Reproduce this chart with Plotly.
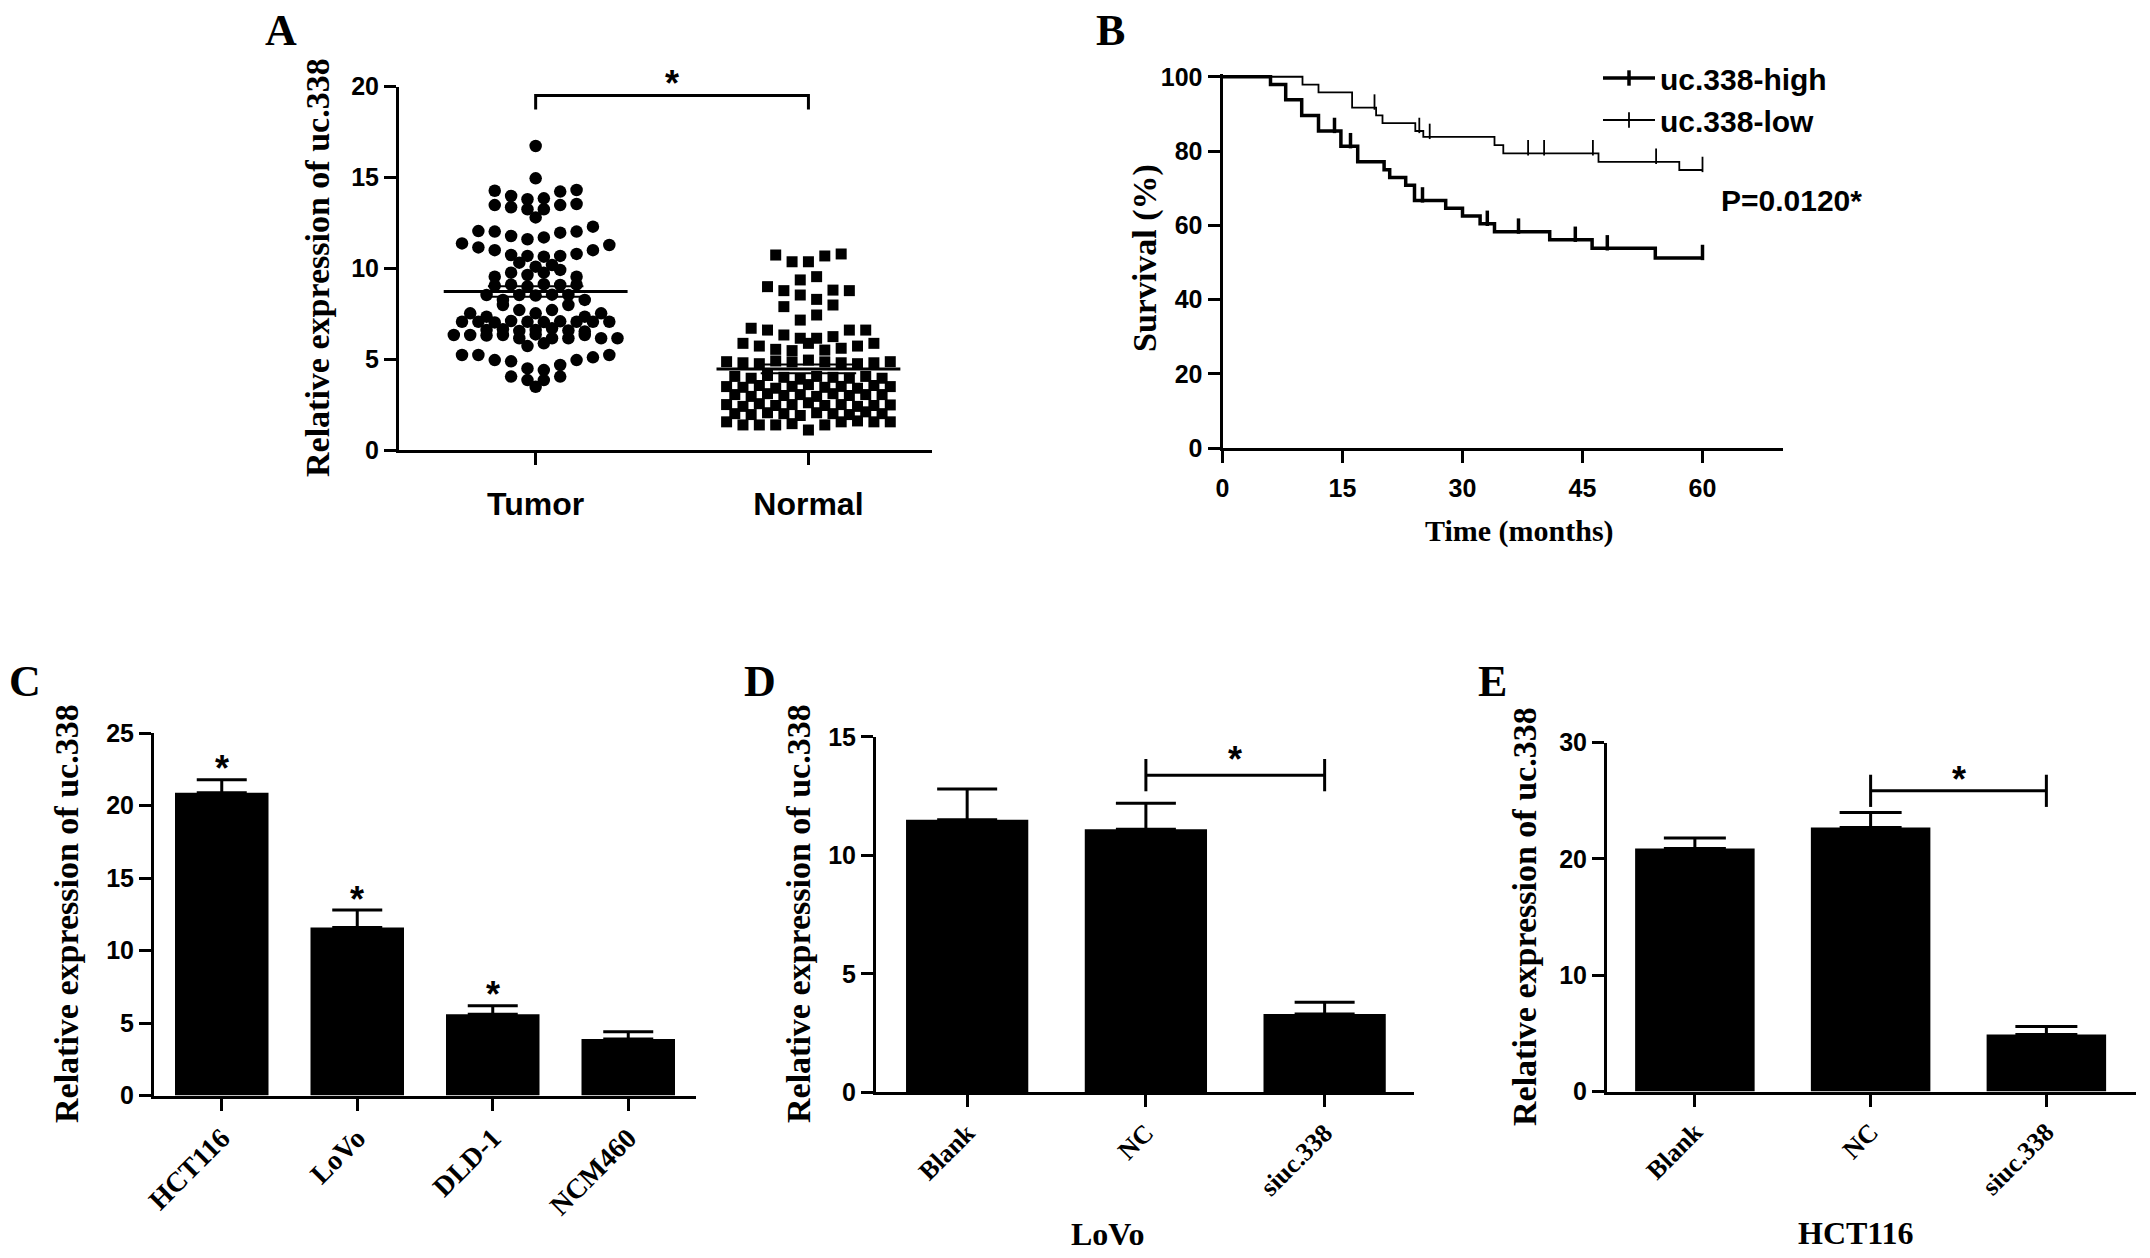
import numpy as np
import plotly.graph_objects as go

# ---------------------------------------------------------------- data
# Panel A: relative expression, read row by row (left to right) from the dot plot
tumor_rows = [
    [16.73],
    [14.95],
    [14.27, 13.98, 13.80, 13.85, 14.22, 14.31],
    [13.48, 13.36, 13.25, 13.25, 13.48, 13.54],
    [12.80],
    [12.05, 12.02, 11.78, 11.60, 11.70, 11.96, 12.02, 12.29],
    [11.37, 11.15, 11.00, 10.73, 10.68, 10.64, 10.68, 10.79, 11.00, 11.28],
    [10.31, 10.09, 10.18],
    [9.54, 9.76, 9.63, 9.76, 9.91, 9.54],
    [9.05, 9.10, 9.00, 9.12, 9.08, 9.10],
    [8.53, 8.26, 8.53, 8.50, 8.55, 8.53, 8.26],
    [7.52, 7.34, 7.98, 7.70, 7.52, 7.70, 7.98, 7.34, 7.52],
    [7.06, 7.06, 7.02, 7.10, 7.06, 7.04, 7.08, 7.06, 7.06, 7.06],
    [6.60, 6.65, 6.55, 6.60, 6.70, 6.58, 6.52],
    [6.33, 6.33, 6.30, 6.33, 6.15, 6.36, 6.15, 6.15, 6.33, 6.15, 6.15],
    [5.72, 5.87],
    [5.23, 5.23, 4.95, 4.88, 4.49, 4.40, 4.68, 4.95, 5.10, 5.23],
    [4.04, 3.85, 3.85, 4.04],
    [3.48],
]
normal_rows = [
    [10.73, 10.36, 10.36, 10.68, 10.79],
    [9.36, 9.54],
    [8.99, 8.77, 8.53, 8.29, 8.80, 8.77],
    [7.89, 7.15, 7.43, 7.98],
    [6.70, 6.60, 6.33, 6.15, 6.15, 6.24, 6.60, 6.60],
    [5.87, 5.72, 5.54, 5.47, 5.87, 5.50, 5.60, 5.72, 5.87],
    [4.86, 4.80, 4.75, 4.90, 4.85, 4.95, 4.85, 4.80, 4.75, 4.80, 4.86],
    [4.05, 3.95, 4.10, 4.00, 3.90, 4.05, 4.00, 3.95, 4.05, 3.95],
    [3.49, 3.45, 3.55, 3.40, 3.50, 3.60, 3.45, 3.50, 3.40, 3.55, 3.49],
    [3.05, 2.95, 3.10, 3.00, 3.05, 2.95, 3.10, 3.00, 3.05, 3.05],
    [2.50, 2.40, 2.55, 2.45, 2.50, 2.60, 2.45, 2.50, 2.40, 2.45, 2.48],
    [2.00, 1.95, 2.05, 2.00, 1.90, 2.05, 2.00, 1.95, 2.10, 2.00],
    [1.55, 1.38, 1.38, 1.38, 1.45, 1.10, 1.38, 1.55, 1.60, 1.55, 1.55],
]
a_categories = ["Tumor", "Normal"]
a_bracket = [18.74, 19.51]
a_star_y = 20.6

# Panel B: Kaplan-Meier steps (months, survival %) and censor times
high_t = [0, 6.0, 7.9, 9.9, 12.0, 14.8, 16.9, 20.2, 20.9, 22.9, 24.0, 27.9, 30.0,
          32.2, 34.0, 40.9, 46.2, 54.1, 60]
high_s = [100, 97.9, 93.8, 89.6, 85.4, 81.3, 77.1, 75.0, 72.9, 70.8, 66.7, 64.6, 62.5,
          60.4, 58.3, 56.1, 53.8, 51.2, 51.2]
high_censor = [14.0, 16.0, 25.0, 33.1, 37.0, 44.1, 48.1, 60]
low_t = [0, 10.0, 12.0, 16.2, 19.2, 20.0, 24.1, 25.1, 34.0, 35.1, 47.0, 57.1, 60]
low_s = [100, 97.9, 95.8, 91.7, 89.6, 87.5, 85.4, 83.8, 81.6, 79.4, 77.1, 74.9, 74.9]
low_censor = [19.0, 24.6, 25.9, 38.2, 40.2, 46.3, 54.2, 60]
b_names = ["uc.338-high", "uc.338-low"]
b_pvalue = "P=0.0120*"

# Panel C: cell lines
c_labels = ["HCT116", "LoVo", "DLD-1", "NCM460"]
c_mean = [20.9, 11.6, 5.6, 3.9]
c_err = [0.9, 1.2, 0.6, 0.5]
c_sig = [True, True, True, False]

# Panel D: LoVo
d_labels = ["Blank", "NC", "siuc.338"]
d_mean = [11.5, 11.1, 3.3]
d_err = [1.3, 1.1, 0.5]
d_bracket_y = 13.38

# Panel E: HCT116
e_labels = ["Blank", "NC", "siuc.338"]
e_mean = [20.9, 22.7, 4.9]
e_err = [0.9, 1.3, 0.7]
e_bracket_y = 25.86

# ---------------------------------------------------------------- style
W, H = 2150, 1258
SANS = "Liberation Sans, Arial, Helvetica, sans-serif"
SERIF = "Liberation Serif, Times New Roman, Times, serif"


def fnt(fam, size, bold=True):
    return dict(family=fam, size=size, color="black", weight="bold" if bold else "normal")


def dxp(a, b):
    return [a / W, b / W]


def dyp(top, bottom):
    return [1 - bottom / H, 1 - top / H]


AX = dict(showline=True, linecolor="black", linewidth=3, ticks="outside", ticklen=12,
          tickwidth=3, tickcolor="black", showgrid=False, zeroline=False, fixedrange=True,
          automargin=False)

fig = go.Figure()

# ---------------------------------------------------------------- panel A
COL = 0.06  # horizontal spacing of swarm columns (category units)


def swarm(rows, center):
    xs, ys = [], []
    for row in rows:
        n = len(row)
        for i, v in enumerate(row):
            xs.append(center + (i - (n - 1) / 2) * COL)
            ys.append(v)
    return xs, ys


tx, ty = swarm(tumor_rows, 0)
nx, ny = swarm(normal_rows, 1)
fig.add_trace(go.Scatter(x=tx, y=ty, mode="markers", xaxis="x", yaxis="y", showlegend=False,
                         marker=dict(symbol="circle", size=12.5, color="black", line=dict(width=0))))
fig.add_trace(go.Scatter(x=nx, y=ny, mode="markers", xaxis="x", yaxis="y", showlegend=False,
                         marker=dict(symbol="square", size=11, color="black", line=dict(width=0))))
for c, vals in ((0, ty), (1, ny)):
    arr = np.array(vals)
    m = arr.mean()
    sem = arr.std(ddof=1) / np.sqrt(len(arr))
    fig.add_trace(go.Scatter(x=[c - 0.337, c + 0.337], y=[m, m], mode="lines", xaxis="x", yaxis="y",
                             showlegend=False, line=dict(color="black", width=3)))
    for s in (m - sem, m + sem):
        fig.add_trace(go.Scatter(x=[c - 0.175, c + 0.175], y=[s, s], mode="lines", xaxis="x",
                                 yaxis="y", showlegend=False, line=dict(color="black", width=2)))
fig.add_trace(go.Scatter(x=[0, 0, 1, 1], y=[a_bracket[0], a_bracket[1], a_bracket[1], a_bracket[0]],
                         mode="lines", xaxis="x", yaxis="y", showlegend=False,
                         line=dict(color="black", width=3)))

# ---------------------------------------------------------------- panel B


def surv_at(t, times, surv):
    idx = np.searchsorted(times, t, side="right") - 1
    return [surv[i] for i in idx]


TICK_OFF = 1.5
for name, tt, ss, cen, lw in ((b_names[0], high_t, high_s, high_censor, 3.5),
                              (b_names[1], low_t, low_s, low_censor, 1.8)):
    fig.add_trace(go.Scatter(x=tt, y=ss, mode="lines", line_shape="hv", xaxis="x2", yaxis="y2",
                             showlegend=False, line=dict(color="black", width=lw)))
    cy = [v + TICK_OFF for v in surv_at(np.array(cen), np.array(tt), ss)]
    fig.add_trace(go.Scatter(x=cen, y=cy, mode="markers", xaxis="x2", yaxis="y2", showlegend=False,
                             cliponaxis=False,
                             marker=dict(symbol="line-ns", size=11, color="black",
                                         line=dict(width=lw, color="black"))))
    fig.add_trace(go.Scatter(x=[None], y=[None], mode="lines+markers", name=name, xaxis="x2",
                             yaxis="y2", legendgroup=name, showlegend=True,
                             line=dict(color="black", width=lw),
                             marker=dict(symbol="line-ns", size=11, color="black",
                                         line=dict(width=lw, color="black"))))

# ---------------------------------------------------------------- panels C, D, E
for xa, ya, means, errs, cap, bw in (("x3", "y3", c_mean, c_err, 25, 0.69),
                                     ("x4", "y4", d_mean, d_err, 30, 0.684),
                                     ("x5", "y5", e_mean, e_err, 31, 0.68)):
    fig.add_trace(go.Bar(x=list(range(len(means))), y=means, width=bw, xaxis=xa, yaxis=ya,
                         showlegend=False, marker=dict(color="black", line=dict(width=0)),
                         error_y=dict(type="data", symmetric=False, array=errs,
                                      arrayminus=[0] * len(errs), color="black",
                                      thickness=3, width=cap)))

for xa, ya, yb in (("x4", "y4", d_bracket_y), ("x5", "y5", e_bracket_y)):
    fig.add_trace(go.Scatter(x=[1, 2], y=[yb, yb], mode="lines+markers", xaxis=xa, yaxis=ya,
                             showlegend=False, line=dict(color="black", width=3),
                             marker=dict(symbol="line-ns", size=23, color="black",
                                         line=dict(width=3, color="black"))))

# ---------------------------------------------------------------- annotations
ann = []
STAR = fnt(SANS, 36)


def star(x, y, xref, yref):
    ann.append(dict(x=x, y=y, xref=xref, yref=yref, text="*", showarrow=False,
                    font=STAR, xanchor="center", yanchor="middle", yshift=-8))


star(0.5, a_star_y / 20, "x", "y domain")
for i, (m, e, s) in enumerate(zip(c_mean, c_err, c_sig)):
    if s:
        star(i, m + e + 1.3, "x3", "y3")
star(1.5, d_bracket_y + 1.0, "x4", "y4")
star(1.5, e_bracket_y + 1.7, "x5", "y5")


def ptext(text, px, py, f, angle=0, xa="center", ya="middle"):
    ann.append(dict(x=px / W, y=1 - py / H, xref="paper", yref="paper", text=text,
                    showarrow=False, font=f, textangle=angle, xanchor=xa, yanchor=ya))


for letter, px, py in (("A", 281, 30), ("B", 1110, 30), ("C", 25, 681), ("D", 760, 681),
                       ("E", 1492, 681)):
    ptext(letter, px, py, fnt(SERIF, 44))

ytitle = "Relative expression of uc.338"
ptext(ytitle, 317, 268, fnt(SERIF, 34), angle=-90)
ptext(ytitle, 66, 914, fnt(SERIF, 34), angle=-90)
ptext(ytitle, 798, 914, fnt(SERIF, 34), angle=-90)
ptext(ytitle, 1524, 917, fnt(SERIF, 34), angle=-90)
ptext("Survival (%)", 1145, 258, fnt(SERIF, 34), angle=-90)
ptext("Time (months)", 1519, 531, fnt(SERIF, 30))
ptext("LoVo", 1108, 1234, fnt(SERIF, 32))
ptext("HCT116", 1856, 1233, fnt(SERIF, 32))
ptext(b_pvalue, 1719, 201, fnt(SANS, 30), xa="left")

# ---------------------------------------------------------------- layout
ytick = fnt(SANS, 25)
fig.update_layout(
    width=W, height=H, margin=dict(l=0, r=0, t=0, b=0, autoexpand=False),
    paper_bgcolor="white", plot_bgcolor="white", showlegend=True,
    legend=dict(x=1598 / W, y=1 - 52 / H, xanchor="left", yanchor="top", bgcolor="rgba(0,0,0,0)",
                font=fnt(SANS, 30), itemwidth=52, tracegroupgap=0),
    annotations=ann,
    xaxis=dict(AX, domain=dxp(399, 932), anchor="y", range=[-0.501, 1.453], tickvals=[0, 1],
               ticktext=a_categories, tickfont=fnt(SANS, 32), ticklabelstandoff=12),
    yaxis=dict(AX, domain=dyp(86.6, 450), anchor="x", range=[0, 20], tickvals=[0, 5, 10, 15, 20],
               tickfont=ytick),
    xaxis2=dict(AX, domain=dxp(1222.5, 1782.5), anchor="y2", range=[0, 70],
                tickvals=[0, 15, 30, 45, 60], tickfont=ytick, ticklabelstandoff=4),
    yaxis2=dict(AX, domain=dyp(73.8, 448.2), anchor="x2", range=[0, 100.8],
                tickvals=[0, 20, 40, 60, 80, 100], tickfont=ytick),
    xaxis3=dict(AX, domain=dxp(154, 696), anchor="y3", range=[-0.5, 3.5],
                tickvals=list(range(len(c_labels))), ticktext=c_labels, tickangle=-45,
                tickfont=fnt(SERIF, 28)),
    yaxis3=dict(AX, domain=dyp(733.3, 1095.5), anchor="x3", range=[0, 25],
                tickvals=[0, 5, 10, 15, 20, 25], tickfont=ytick),
    xaxis4=dict(AX, domain=dxp(876, 1414), anchor="y4", range=[-0.51, 2.5],
                tickvals=list(range(len(d_labels))), ticktext=d_labels, tickangle=-45,
                tickfont=fnt(SERIF, 26)),
    yaxis4=dict(AX, domain=dyp(736.8, 1092.3), anchor="x4", range=[0, 15],
                tickvals=[0, 5, 10, 15], tickfont=ytick),
    xaxis5=dict(AX, domain=dxp(1607, 2136), anchor="y5", range=[-0.5, 2.51],
                tickvals=list(range(len(e_labels))), ticktext=e_labels, tickangle=-45,
                tickfont=fnt(SERIF, 26)),
    yaxis5=dict(AX, domain=dyp(742.7, 1091.5), anchor="x5", range=[0, 30],
                tickvals=[0, 10, 20, 30], tickfont=ytick),
)

fig.write_html("out.html", config={"displayModeBar": False},
               post_script="document.body.style.margin='0px';")
